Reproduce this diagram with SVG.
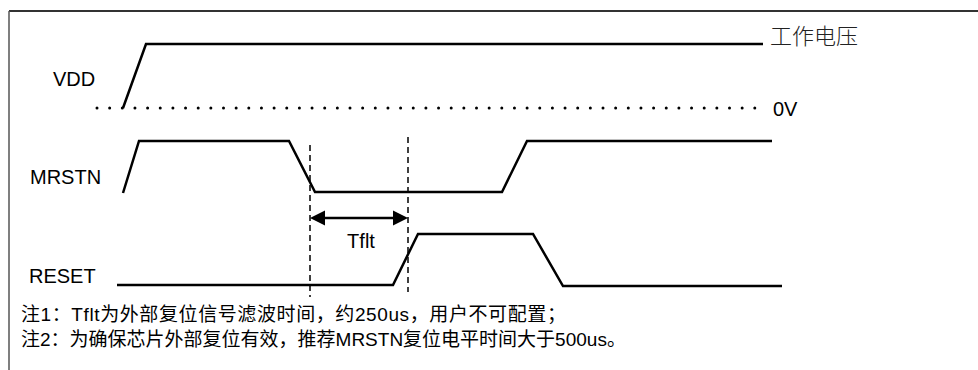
<svg xmlns="http://www.w3.org/2000/svg" width="978" height="370" viewBox="0 0 978 370">
<style>
.wave{fill:none;stroke:#000;stroke-width:2.5;stroke-linejoin:miter}
.lbl{font-family:"Liberation Sans",Arial,sans-serif;font-size:20px;fill:#000}
.cjk{font-family:"Liberation Sans","Noto Sans CJK SC",sans-serif;font-size:19px;fill:#000}
.dash{stroke:#000;stroke-width:1.5;stroke-dasharray:6 4;fill:none}
</style>
<rect width="978" height="370" fill="#fff"/>
<g id="frame">
<line x1="9" y1="11" x2="978" y2="11" stroke="#333" stroke-width="2"/>
<line x1="9" y1="11" x2="9" y2="370" stroke="#555" stroke-width="1.5"/>
</g>
<g id="vdd">
<text class="lbl" x="53" y="86">VDD</text>
<path d="M97,108 H757" fill="none" stroke="#000" stroke-width="3" stroke-linecap="round" stroke-dasharray="0 12.65"/>
<polyline class="wave" points="123,108 146,44 763,44"/>
<text x="770" y="44" font-family="'Noto Sans CJK SC',sans-serif" font-size="22" font-weight="300" fill="#222">工作电压</text>
<text class="lbl" x="773" y="116">0V</text>
</g>
<g id="mrstn">
<text class="lbl" x="30" y="184">MRSTN</text>
<polyline class="wave" points="123,193 139,141 289,141 315,192 502,192 527,141 772,141"/>
</g>
<g id="reset">
<text class="lbl" x="29" y="283">RESET</text>
<polyline class="wave" points="117,285 393,285 418,234 533,234 563,286 782,286"/>
</g>
<g id="connectors">
<line class="dash" x1="310" y1="145" x2="310" y2="297"/>
<line class="dash" x1="408" y1="137" x2="408" y2="292"/>
<line x1="320" y1="218" x2="398" y2="218" stroke="#000" stroke-width="2.5"/>
<polygon points="310,218 325,210.5 325,225.5" fill="#000"/>
<polygon points="408,218 393,210.5 393,225.5" fill="#000"/>
</g>
<g id="tflt">
<text class="lbl" x="361" y="248" text-anchor="middle">Tflt</text>
</g>
<g id="notes">
<text class="cjk" x="21" y="321" letter-spacing="0.6">注1：Tflt为外部复位信号滤波时间，约250us，用户不可配置；</text>
<text class="cjk" x="21" y="346">注2：为确保芯片外部复位有效，推荐MRSTN复位电平时间大于500us。</text>
</g>
</svg>
